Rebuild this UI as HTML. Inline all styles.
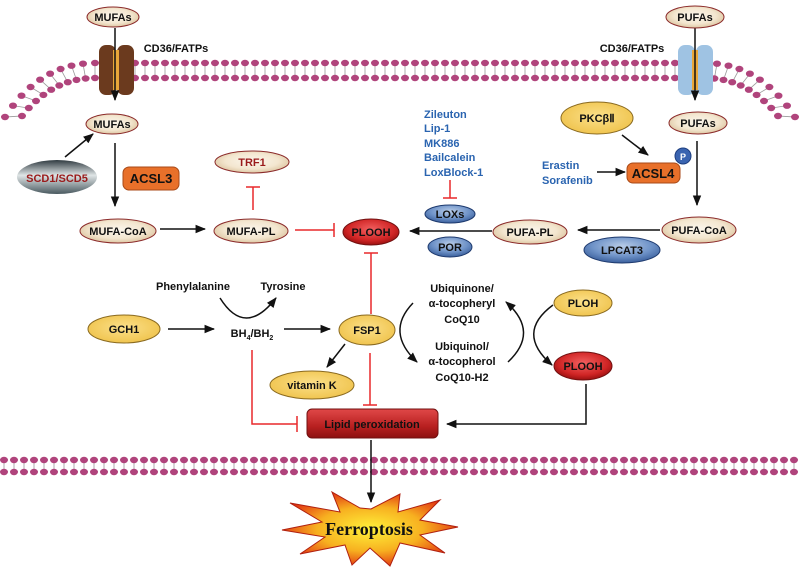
<!DOCTYPE html>
<html><head><meta charset="utf-8"><style>
html,body{margin:0;padding:0;background:#fff}
svg{display:block}
text{font-family:"Liberation Sans",Arial,sans-serif;font-weight:bold}
</style></head><body>
<svg id="s" width="800" height="568" viewBox="0 0 800 568" xmlns="http://www.w3.org/2000/svg">
<defs>
<radialGradient id="beige" cx="50%" cy="45%" r="60%"><stop offset="0" stop-color="#fbf6ec"/><stop offset="0.6" stop-color="#f3e6cf"/><stop offset="1" stop-color="#d8bf98"/></radialGradient>
<radialGradient id="yel" cx="50%" cy="45%" r="60%"><stop offset="0" stop-color="#fbe08a"/><stop offset="1" stop-color="#efc24a"/></radialGradient>
<radialGradient id="red" cx="50%" cy="40%" r="60%"><stop offset="0" stop-color="#f26060"/><stop offset="0.7" stop-color="#d02525"/><stop offset="1" stop-color="#9a1010"/></radialGradient>
<radialGradient id="blue" cx="50%" cy="35%" r="65%"><stop offset="0" stop-color="#b8cce8"/><stop offset="0.6" stop-color="#6f93c8"/><stop offset="1" stop-color="#3a5f9c"/></radialGradient>
<linearGradient id="grey" x1="0" y1="0" x2="0" y2="1"><stop offset="0" stop-color="#2f3a40"/><stop offset="0.45" stop-color="#dfe5e6"/><stop offset="1" stop-color="#4a5a60"/></linearGradient>
<linearGradient id="lip" x1="0" y1="0" x2="0" y2="1"><stop offset="0" stop-color="#e04848"/><stop offset="0.6" stop-color="#b82020"/><stop offset="1" stop-color="#8c1010"/></linearGradient>
<radialGradient id="star" cx="50%" cy="50%" r="55%"><stop offset="0" stop-color="#fff23a"/><stop offset="0.55" stop-color="#f7b020"/><stop offset="1" stop-color="#e02a10"/></radialGradient>
<marker id="ar" viewBox="0 0 10 10" refX="9" refY="5" markerWidth="7" markerHeight="7" orient="auto"><path d="M0,1 L10,5 L0,9 Z" fill="#111"/></marker>
</defs>
<g id="mem"></g>

<rect x="99" y="45" width="17" height="50" rx="7" fill="#6b3a1e"/>
<rect x="117" y="45" width="17" height="50" rx="7" fill="#6b3a1e"/>
<rect x="113" y="50" width="6" height="40" fill="#e8a83a"/>
<rect x="678" y="45" width="17" height="50" rx="7" fill="#9fc3e3"/>
<rect x="696" y="45" width="17" height="50" rx="7" fill="#9fc3e3"/>
<rect x="692" y="50" width="6" height="40" fill="#e8a83a"/>

<g stroke="#111" stroke-width="1.5" fill="none">
<line x1="115" y1="28" x2="115" y2="100" marker-end="url(#ar)"/>
<line x1="695" y1="28" x2="695" y2="100" marker-end="url(#ar)"/>
<line x1="115" y1="143" x2="115" y2="206" marker-end="url(#ar)"/>
<line x1="65" y1="157" x2="93" y2="134" marker-end="url(#ar)"/>
<line x1="160" y1="229" x2="205" y2="229" marker-end="url(#ar)"/>
<line x1="697" y1="141" x2="697" y2="205" marker-end="url(#ar)"/>
<line x1="622" y1="135" x2="648" y2="155" marker-end="url(#ar)"/>
<line x1="597" y1="172" x2="625" y2="172" marker-end="url(#ar)"/>
<line x1="660" y1="230" x2="578" y2="230" marker-end="url(#ar)"/>
<line x1="492" y1="231" x2="410" y2="231" marker-end="url(#ar)"/>
<line x1="168" y1="329" x2="214" y2="329" marker-end="url(#ar)"/>
<line x1="284" y1="329" x2="330" y2="329" marker-end="url(#ar)"/>
<path d="M220,298 Q245,338 276,298" marker-end="url(#ar)"/>
<line x1="345" y1="344" x2="327" y2="367" marker-end="url(#ar)"/>
<path d="M413,303 Q385,332 417,362" marker-end="url(#ar)"/>
<path d="M508,362 Q540,332 506,302" marker-end="url(#ar)"/>
<path d="M553,305 Q515,333 552,365" marker-end="url(#ar)"/>
<polyline points="586,384 586,424 447,424" marker-end="url(#ar)"/>
<line x1="371" y1="440" x2="371" y2="502" marker-end="url(#ar)"/>
</g>

<g stroke="#e8292b" stroke-width="1.5" fill="none">
<line x1="253" y1="210" x2="253" y2="187"/><line x1="246" y1="187" x2="260" y2="187"/>
<line x1="295" y1="230" x2="334" y2="230"/><line x1="334" y1="223" x2="334" y2="237"/>
<line x1="450" y1="180" x2="450" y2="198"/><line x1="443" y1="198" x2="457" y2="198"/>
<line x1="371" y1="314" x2="371" y2="253"/><line x1="364" y1="253" x2="378" y2="253"/>
<line x1="370" y1="353" x2="370" y2="405"/><line x1="363" y1="405" x2="377" y2="405"/>
<polyline points="252,350 252,424 297,424"/><line x1="297" y1="416" x2="297" y2="432"/>
</g>

<g stroke="#8b2a2a" stroke-width="1">
<ellipse cx="113" cy="17" rx="26" ry="10" fill="url(#beige)"/>
<ellipse cx="695" cy="17" rx="29" ry="11" fill="url(#beige)"/>
<ellipse cx="112" cy="124" rx="26" ry="10" fill="url(#beige)"/>
<ellipse cx="698" cy="123" rx="29" ry="11" fill="url(#beige)"/>
<ellipse cx="252" cy="162" rx="37" ry="11" fill="url(#beige)"/>
<ellipse cx="118" cy="231" rx="38" ry="12" fill="url(#beige)"/>
<ellipse cx="251" cy="231" rx="37" ry="12" fill="url(#beige)"/>
<ellipse cx="530" cy="232" rx="37" ry="12" fill="url(#beige)"/>
<ellipse cx="699" cy="230" rx="37" ry="13" fill="url(#beige)"/>
</g>
<ellipse cx="57" cy="177" rx="40" ry="17" fill="url(#grey)"/>
<rect x="123" y="167" width="56" height="23" rx="6" fill="#e8702a" stroke="#a84a18"/>
<rect x="627" y="163" width="53" height="20" rx="6" fill="#e8702a" stroke="#a84a18"/>
<circle cx="683" cy="156" r="8" fill="#3a64b0" stroke="#1e3f80"/>
<g stroke="#8a6a20" stroke-width="1">
<ellipse cx="597" cy="118" rx="36" ry="16" fill="url(#yel)"/>
<ellipse cx="124" cy="329" rx="36" ry="14" fill="url(#yel)"/>
<ellipse cx="367" cy="330" rx="28" ry="15" fill="url(#yel)"/>
<ellipse cx="312" cy="385" rx="42" ry="14" fill="url(#yel)"/>
<ellipse cx="583" cy="303" rx="29" ry="13" fill="url(#yel)"/>
</g>
<g stroke="#701010" stroke-width="1">
<ellipse cx="371" cy="232" rx="28" ry="13" fill="url(#red)"/>
<ellipse cx="583" cy="366" rx="29" ry="14" fill="url(#red)"/>
<rect x="307" y="409" width="131" height="29" rx="5" fill="url(#lip)"/>
</g>
<g stroke="#1e3a6e" stroke-width="1">
<ellipse cx="450" cy="214" rx="25" ry="9" fill="url(#blue)"/>
<ellipse cx="450" cy="247" rx="22" ry="10" fill="url(#blue)"/>
<ellipse cx="622" cy="250" rx="38" ry="13" fill="url(#blue)"/>
</g>
<polygon fill="url(#star)" stroke="#b02010" stroke-width="1" points="371,509 400,494 398,512 440,500 420,520 458,527 420,535 445,553 400,543 390,566 370,548 352,565 345,545 300,554 325,537 282,530 322,522 290,503 340,512 332,492 360,508"/>

<g font-size="11" fill="#111" text-anchor="middle">
<text x="113" y="21">MUFAs</text>
<text x="695" y="21">PUFAs</text>
<text x="112" y="128">MUFAs</text>
<text x="698" y="127">PUFAs</text>
<text x="118" y="235">MUFA-CoA</text>
<text x="251" y="235">MUFA-PL</text>
<text x="530" y="236">PUFA-PL</text>
<text x="699" y="234">PUFA-CoA</text>
<text x="176" y="52">CD36/FATPs</text>
<text x="632" y="52">CD36/FATPs</text>
<text x="252" y="166" fill="#9a1a1a">TRF1</text>
<text x="57" y="182" fill="#9a1a1a">SCD1/SCD5</text>
<text x="151" y="183" font-size="13">ACSL3</text>
<text x="653" y="178" font-size="13">ACSL4</text>
<text x="683" y="160" font-size="9" fill="#fff">P</text>
<text x="597" y="122">PKCβⅡ</text>
<text x="371" y="236">PLOOH</text>
<text x="583" y="370">PLOOH</text>
<text x="583" y="307">PLOH</text>
<text x="450" y="218">LOXs</text>
<text x="450" y="251">POR</text>
<text x="622" y="254">LPCAT3</text>
<text x="124" y="333">GCH1</text>
<text x="367" y="334">FSP1</text>
<text x="312" y="389">vitamin K</text>
<text x="193" y="290">Phenylalanine</text>
<text x="283" y="290">Tyrosine</text>
<text x="252" y="337">BH<tspan font-size="7" dy="3">4</tspan><tspan dy="-3">/BH</tspan><tspan font-size="7" dy="3">2</tspan></text>
<text x="462" y="292">Ubiquinone/</text>
<text x="462" y="307">α-tocopheryl</text>
<text x="462" y="323">CoQ10</text>
<text x="462" y="350">Ubiquinol/</text>
<text x="462" y="365">α-tocopherol</text>
<text x="462" y="381">CoQ10-H2</text>
<text x="372" y="428">Lipid peroxidation</text>
<text x="369" y="535" style="font-family:'Liberation Serif',serif;font-size:18px;font-weight:bold">Ferroptosis</text>
</g>
<g font-size="11" fill="#2a64b0">
<text x="424" y="118">Zileuton</text>
<text x="424" y="132">Lip-1</text>
<text x="424" y="147">MK886</text>
<text x="424" y="161">Bailcalein</text>
<text x="424" y="176">LoxBlock-1</text>
<text x="542" y="169">Erastin</text>
<text x="542" y="184">Sorafenib</text>
</g>
</svg>
<script>
(function(){
var g=document.getElementById('mem'),out='';
var C='#b0447c';
function dot(x,y){out+='<ellipse cx="'+x.toFixed(1)+'" cy="'+y.toFixed(1)+'" rx="4" ry="3.2" fill="'+C+'"/>';}
function tail(x1,y1,x2,y2){out+='<line x1="'+x1.toFixed(1)+'" y1="'+y1.toFixed(1)+'" x2="'+x2.toFixed(1)+'" y2="'+y2.toFixed(1)+'" stroke="#999" stroke-width="0.8"/>';}
function q(p0,c,p2,t){var u=1-t;return [u*u*p0[0]+2*u*t*c[0]+t*t*p2[0],u*u*p0[1]+2*u*t*c[1]+t*t*p2[1]];}
for(var x=95;x<=705;x+=10){tail(x,66,x,75);dot(x,63);dot(x,78);}
function curve(side){
 var m=side?function(p){return [800-p[0],p[1]]}:function(p){return p};
 var n=9;
 for(var i=1;i<=n;i++){var t=i/n;
  var a=m(q([95,63],[40,63],[5,117],t)), b=m(q([95,78],[52,78],[22,116],t));
  tail(a[0]+(b[0]-a[0])*0.2,a[1]+(b[1]-a[1])*0.2,a[0]+(b[0]-a[0])*0.8,a[1]+(b[1]-a[1])*0.8);
  dot(a[0],a[1]);dot(b[0],b[1]);}
}
curve(false);curve(true);
for(var x=4;x<=800;x+=10){tail(x,463,x,469);dot(x,460);dot(x,472);}
g.innerHTML=out;
})();
</script>
</body></html>
